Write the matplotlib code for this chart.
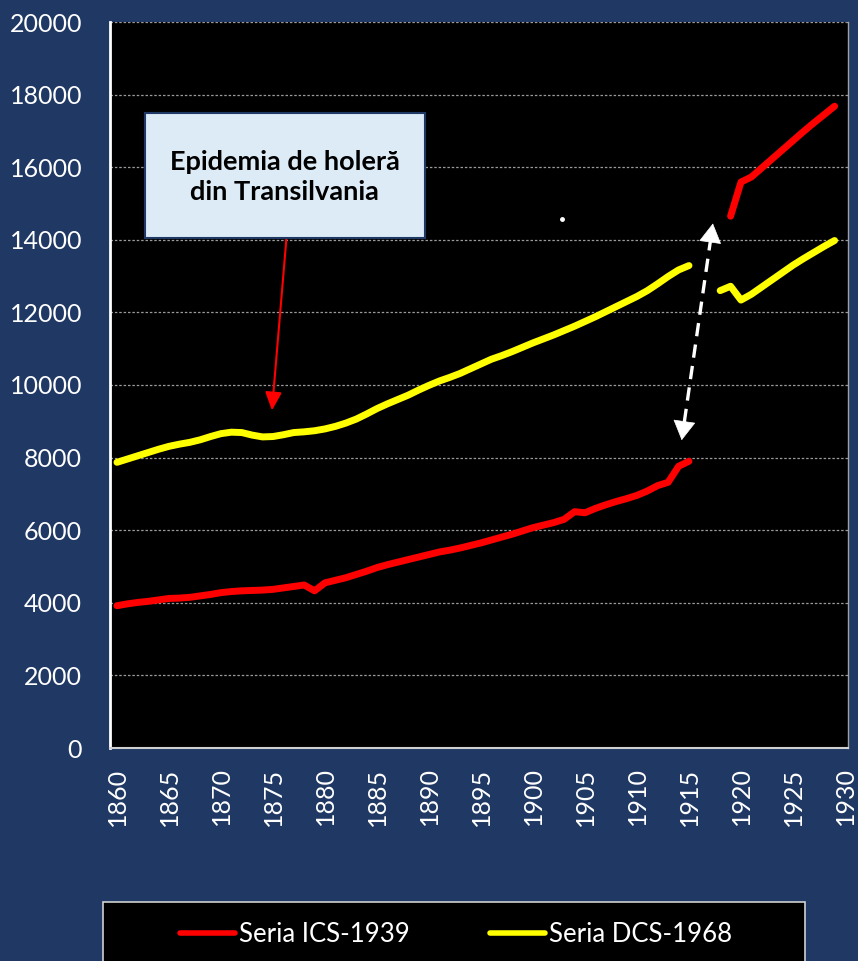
import numpy as np
import matplotlib
matplotlib.use("Agg")
import matplotlib.pyplot as plt
from matplotlib.patches import Rectangle
from matplotlib.lines import Line2D

plt.rcParams['font.family'] = ['Lato', 'DejaVu Sans']

years = list(range(1860, 1930))
nan = np.nan

ics_1939 = [3920, 3970, 4010, 4040, 4080, 4120, 4130, 4150, 4190, 4230,
            4280, 4310, 4330, 4340, 4350, 4370, 4410, 4450, 4490, 4330,
            4550, 4620, 4690, 4780, 4870, 4970, 5050, 5120, 5190, 5260,
            5330, 5400, 5450, 5510, 5580, 5650, 5730, 5810, 5890, 5980,
            6070, 6140, 6210, 6300, 6510, 6480, 6600, 6700, 6790, 6870,
            6960, 7080, 7230, 7320, 7760, 7900, nan, nan, nan, 14650,
            15590, 15730, 15980, 16230, 16480, 16730, 16980, 17220, 17450, 17680]

dcs_1968 = [7870, 7960, 8050, 8140, 8230, 8310, 8370, 8420, 8490, 8580,
            8660, 8700, 8690, 8620, 8570, 8580, 8630, 8690, 8710, 8740,
            8790, 8860, 8950, 9060, 9200, 9350, 9480, 9600, 9720, 9860,
            9990, 10110, 10210, 10320, 10450, 10580, 10710, 10810, 10920, 11040,
            11160, 11270, 11380, 11500, 11620, 11750, 11880, 12020, 12160, 12300,
            12440, 12600, 12790, 12990, 13170, 13290, nan, nan, 12600, 12720,
            12340, 12500, 12700, 12900, 13100, 13300, 13480, 13650, 13820, 13980]

x_ticks = list(range(1860, 1931, 5))
y_ticks = list(range(0, 20001, 2000))
series_names = ["Seria ICS-1939", "Seria DCS-1968"]
callout_text = "Epidemia de holeră\ndin Transilvania"

BG = '#1F3864'
fig = plt.figure(figsize=(8.58, 9.61), dpi=100, facecolor=BG)
ax = fig.add_axes([110/858, 1-748/961, 738/858, 726/961])
ax.set_facecolor('black')

ax.plot(years, ics_1939, color='#FF0000', lw=5, solid_capstyle='round', solid_joinstyle='round', zorder=3)
ax.plot(years, dcs_1968, color='#FFFF00', lw=5, solid_capstyle='round', solid_joinstyle='round', zorder=3)

ax.set_xlim(1859.33, 1930.29)
ax.set_ylim(0, 20000)
ax.set_xticks(x_ticks)
ax.set_yticks(y_ticks)
ax.tick_params(axis='x', length=0, pad=14, labelsize=18, labelcolor='white', labelrotation=90)
ax.tick_params(axis='y', length=0, pad=20, labelsize=18, labelcolor='white')
ax.grid(axis='y', color='#9a9a9a', linestyle=(0, (2, 1.5)), lw=0.9)
ax.set_axisbelow(True)
ax.spines['top'].set_visible(False)
ax.spines['left'].set_color('white')
ax.spines['left'].set_linewidth(2)
ax.spines['bottom'].set_color('#d0d0d0')
ax.spines['bottom'].set_linewidth(1.5)
ax.spines['right'].set_color('#a0a0a0')
ax.spines['right'].set_linewidth(1)

# callout box
box = Rectangle((0.0474, 0.7025), 0.3794, 0.1722, transform=ax.transAxes,
                facecolor='#DDEBF7', edgecolor='#1F3864', lw=1.5, zorder=5)
ax.add_patch(box)
ax.text(0.237, 0.786, callout_text, transform=ax.transAxes, ha='center', va='center',
        fontsize=19.5, fontweight='bold', color='black', linespacing=1.3, zorder=6)

# red arrow
ax.annotate('', xy=(1874.9, 9300), xytext=(1876.3, 14060),
            arrowprops=dict(arrowstyle='-|>,head_length=1.1,head_width=0.5', color='#FF0000', lw=1.5,
                            shrinkA=0, shrinkB=0), zorder=4)

# white dashed double arrow: dashed shaft + solid heads
top = (1917.3, 14450)
bot = (1914.3, 8480)
top_in = (1917.05, 13950)
bot_in = (1914.55, 8980)
ax.plot([bot_in[0], top_in[0]], [bot_in[1], top_in[1]], color='white', lw=2.4,
        linestyle=(0, (4, 2.5)), zorder=4)
for tip, back in [(top, top_in), (bot, bot_in)]:
    ax.annotate('', xy=tip, xytext=back,
                arrowprops=dict(arrowstyle='-|>,head_length=1.3,head_width=0.75', color='white', lw=0.5,
                                shrinkA=0, shrinkB=0), zorder=4)

# small white dot
ax.plot([1902.8], [14570], marker='o', color='white', ms=2.5, zorder=4)

# legend box
fig.patches.append(Rectangle((103/858, -0.01), 702/858, (961-902)/961 + 0.01,
                             transform=fig.transFigure, facecolor='black', edgecolor='#d0d0d0', lw=1.2))
handles = [Line2D([], [], color='#FF0000', lw=4, solid_capstyle='round'),
           Line2D([], [], color='#FFFF00', lw=4, solid_capstyle='round')]
leg = fig.legend(handles, series_names, loc='center', bbox_to_anchor=(456/858, 1-934/961),
                 ncol=2, frameon=False, fontsize=18.5, labelcolor='white',
                 handlelength=2.15, handletextpad=0.15, columnspacing=3.1)

fig.savefig('out.png', dpi=100, facecolor=BG)
